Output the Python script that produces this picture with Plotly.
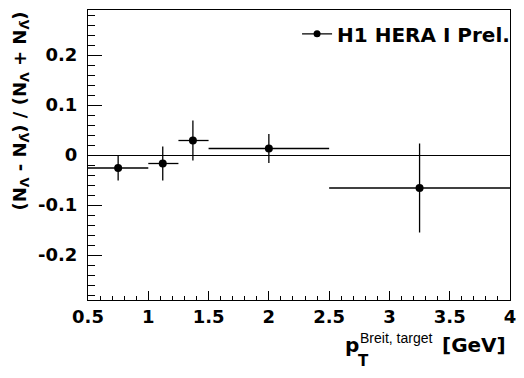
import plotly.graph_objects as go

# data
pt = [0.75, 1.12, 1.37, 2.0, 3.25]
asym = [-0.026, -0.017, 0.029, 0.013, -0.066]
asym_err = [0.025, 0.034, 0.040, 0.029, 0.089]
bin_lo = [0.5, 1.0, 1.25, 1.5, 2.5]
bin_hi = [1.0, 1.25, 1.5, 2.5, 4.0]

x_ticks = [0.5, 1, 1.5, 2, 2.5, 3, 3.5, 4]
x_ticklabels = ["0.5", "1", "1.5", "2", "2.5", "3", "3.5", "4"]
y_ticks = [-0.2, -0.1, 0, 0.1, 0.2]
y_ticklabels = ["-0.2", "-0.1", "0", "0.1", "0.2"]

legend_label = "H1 HERA I Prel."

err_plus_x = [h - x for h, x in zip(bin_hi, pt)]
err_minus_x = [x - l for x, l in zip(pt, bin_lo)]

FONT = "DejaVu Sans"

fig = go.Figure()
fig.add_trace(go.Scatter(
    x=pt, y=asym, mode="markers",
    marker=dict(color="black", size=8, symbol="circle"),
    error_y=dict(type="data", array=asym_err, color="black", thickness=1.3, width=0),
    error_x=dict(type="data", array=err_plus_x, arrayminus=err_minus_x,
                 color="black", thickness=1.3, width=0),
    showlegend=False,
))
# legend entry
fig.add_trace(go.Scatter(
    x=[None], y=[None], mode="lines+markers", name=legend_label,
    marker=dict(color="black", size=7), line=dict(color="black", width=1.3),
))

fig.update_layout(
    width=524, height=378,
    margin=dict(l=88, r=14, t=10, b=78, autoexpand=False),
    paper_bgcolor="white", plot_bgcolor="white",
    font=dict(family=FONT, color="black"),
    legend=dict(x=1.012, xanchor="right", y=0.985, yanchor="top",
                font=dict(family=FONT, size=20, weight="bold"),
                bgcolor="rgba(0,0,0,0)", itemwidth=30),
    xaxis=dict(range=[0.5, 4.0], tickvals=x_ticks, ticktext=x_ticklabels,
               showgrid=False, zeroline=False,
               showline=True, linecolor="black", linewidth=1, mirror=True,
               ticks="inside", ticklen=9, tickwidth=1, tickcolor="black",
               minor=dict(ticks="inside", ticklen=4, dtick=0.1, tickcolor="black"),
               ticklabelstandoff=0, automargin=False,
               tickfont=dict(family=FONT, size=18, weight="bold")),
    yaxis=dict(range=[-0.29, 0.29], tickvals=y_ticks, ticktext=y_ticklabels,
               showgrid=False, zeroline=True, zerolinecolor="black", zerolinewidth=1,
               showline=True, linecolor="black", linewidth=1, mirror=True,
               ticks="inside", ticklen=14, tickwidth=1, tickcolor="black",
               minor=dict(ticks="inside", ticklen=7, dtick=0.02, tickcolor="black"),
               ticklabelstandoff=6, automargin=False,
               tickfont=dict(family=FONT, size=18, weight="bold")),
)

# x-axis title, ROOT style: p with stacked sub/superscript, then [GeV]
bold20 = dict(family=FONT, size=20, weight="bold")
fig.add_annotation(text="p", xref="paper", yref="paper", x=0.604, y=-0.1555,
                   xanchor="left", yanchor="middle", showarrow=False, font=bold20)
fig.add_annotation(text="T", xref="paper", yref="paper", x=0.635, y=-0.2097,
                   xanchor="left", yanchor="middle", showarrow=False,
                   font=dict(family=FONT, size=15, weight="bold"))
fig.add_annotation(text="Breit, target", xref="paper", yref="paper", x=0.6398, y=-0.1316,
                   xanchor="left", yanchor="middle", showarrow=False,
                   font=dict(family="Liberation Sans", size=14))
fig.add_annotation(text="[GeV]", xref="paper", yref="paper", x=0.996, y=-0.1555,
                   xanchor="right", yanchor="middle", showarrow=False, font=bold20)

fig.add_annotation(
    text="(N<sub>Λ</sub> - N<sub>Λ̄</sub>) / (N<sub>Λ</sub> + N<sub>Λ̄</sub>)",
    xref="paper", yref="paper", x=-0.161, y=1.0, xanchor="center", yanchor="top",
    textangle=-90, showarrow=False, font=dict(family=FONT, size=18, weight="bold"),
)

fig.write_html("out.html")
